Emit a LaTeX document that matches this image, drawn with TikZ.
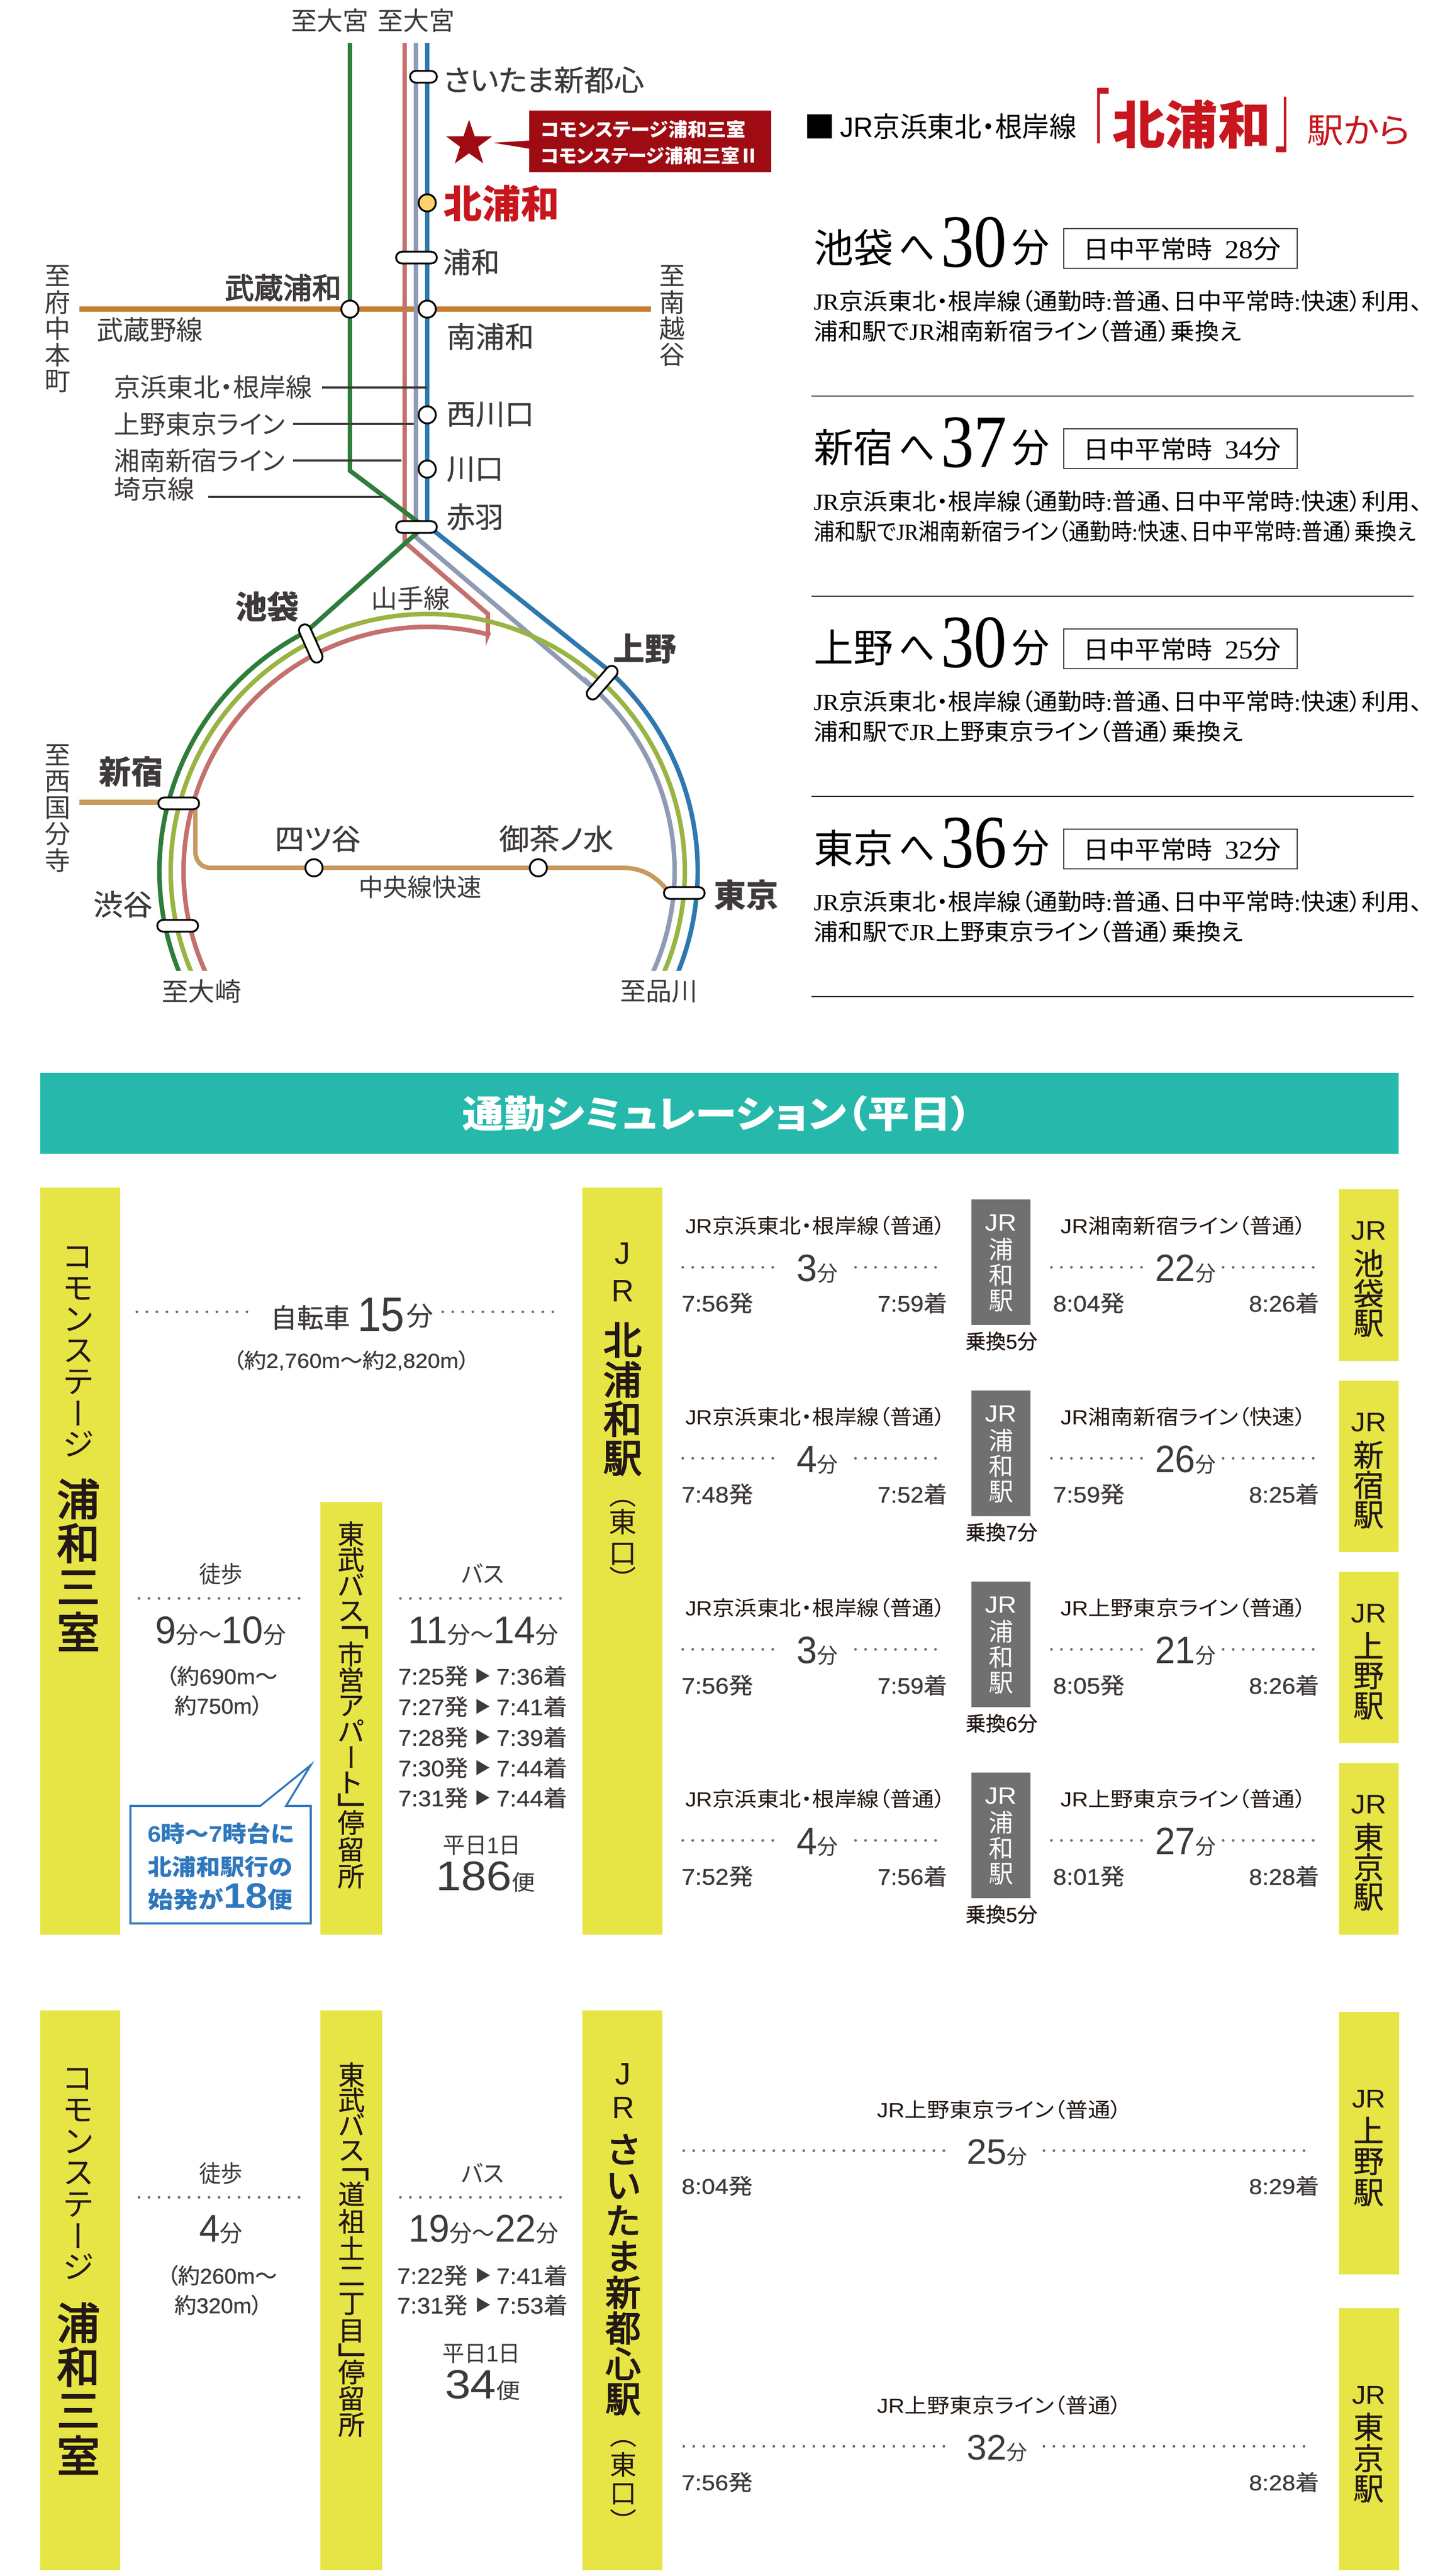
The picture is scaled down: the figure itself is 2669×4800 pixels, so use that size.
\documentclass[tikz,border=0pt]{standalone}
\usepackage{fontspec}
\usetikzlibrary{shapes.geometric}
\newfontfamily\cjk[RawFeature={+palt}]{Noto Sans CJK JP}
\newfontfamily\cjkm[RawFeature={+palt},FakeBold=0.6]{Noto Sans CJK JP}
\newfontfamily\cjkb[RawFeature={+palt},FakeBold=3]{Noto Sans CJK JP}
\newfontfamily\lsn{Liberation Sans}
\newfontfamily\lsm[FakeBold=0.6]{Liberation Sans}
\newfontfamily\lsr{Liberation Serif}
\definecolor{ink}{HTML}{3E3A39}
\definecolor{darkink}{HTML}{231815}
\definecolor{kred}{HTML}{C8161E}
\definecolor{dred}{HTML}{9E0B13}
\definecolor{bary}{HTML}{E6E545}
\definecolor{teal2}{HTML}{25B8AB}
\definecolor{grayb}{HTML}{717071}
\definecolor{cgreen}{HTML}{2E7D3C}
\definecolor{cpink}{HTML}{C4706C}
\definecolor{cslate}{HTML}{8F9AB5}
\definecolor{cblue}{HTML}{2E78AE}
\definecolor{colive}{HTML}{9AB443}
\definecolor{corange}{HTML}{C67F32}
\definecolor{cchuo}{HTML}{C79A5E}
\definecolor{cbox}{HTML}{2F78BE}
\definecolor{cdot}{HTML}{6E6C6C}
\definecolor{cstation}{HTML}{FBD26E}
\newcounter{tn}
\newsavebox\bxa
\newcommand\fz[1]{\pgfmathsetmacro\fzv{#1*0.25}\fontsize{\fzv pt}{\fzv pt}\selectfont}
\newcommand\fitw[2]{\sbox\bxa{#2}\edef\fwd{\the\wd\bxa}\pgfmathsetmacro\fwr{(#1)*0.25/\fwd}\scalebox{\fwr}[1]{\usebox\bxa}}
% left x, right x, centre y, size, format, text
\newcommand\lbl[6]{\stepcounter{tn}\node (t\arabic{tn}) [txt] at ({(#1+#2)/2},{#3}) {#5\fz{#4}\fitw{#2-#1}{#6{\cjk\vphantom{国}}}};}
% as \lbl, without the height strut
\newcommand\lbn[6]{\stepcounter{tn}\node (t\arabic{tn}) [txt] at ({(#1+#2)/2},{#3}) {#5\fz{#4}\fitw{#2-#1}{#6}};}
% x, first centre y, pitch, size, format, list
\newcommand\vchars[6]{\foreach \vch [count=\vi from 0] in {#6} {\stepcounter{tn}\node (t\arabic{tn}) [txt] at (#1,{#2+\vi*#3}) {#5\fz{#4}\vch{\cjk\vphantom{国}}};}}
% rotated bracket: x, y, size, format, char
\newcommand\vbr[5]{\stepcounter{tn}\node (t\arabic{tn}) [txt,rotate=-90] at (#1,#2) {#4\fz{#3}#5};}
\newcommand\VL{\rotatebox[origin=c]{-90}{\rule{0pt}{.76em}ー}}
\newcommand\JR{{\lsn JR}}
\newcommand\SJ{{\lsr JR}}
\tikzset{
  txt/.style={font=\cjk,text=ink,inner sep=0pt,outer sep=0pt,anchor=center},
  dotl/.style={draw=cdot,line cap=round,line width=1.25pt,dash pattern=on 0.01pt off 4.65pt},
  rail/.style={line width=2.1pt,line join=miter},
  pill/.style={draw=black,fill=white,line width=0.85pt,rounded corners=2.75pt,minimum height=5.5pt,inner sep=0pt,minimum width=19pt},
  stn/.style={circle,draw=black,fill=white,line width=0.85pt,minimum size=8pt,inner sep=0pt},
  leader/.style={draw=ink,line width=0.9pt},
  rulel/.style={draw=ink,line width=0.6pt}
}
% dy, line-2 text on right, n1, t1, t2, n2, t3, t4, transfer
\newcommand\simrow[9]{%
  \lbl{1277}{1762}{2284+#1}{38}{\color{darkink}}{\JR 京浜東北・根岸線（普通）}
  \draw[dotl] (1272,{2361+#1}) -- (1451,{2361+#1});
  \draw[dotl] (1594,{2361+#1}) -- (1754,{2361+#1});
  \lbl{1484}{1561}{2362+#1}{71}{}{{\lsn #3}{\fz{40}分}}
  \lbl{1270}{1403}{2428+#1}{42}{\cjkm}{{\lsm #4}発}
  \lbl{1635}{1765}{2428+#1}{42}{\cjkm}{{\lsm #5}着}
  \fill[grayb] (1810,{2235+#1}) rectangle (1920,{2469+#1});
  \lbl{1835}{1894}{2278+#1}{44}{\color{white}}{\JR}
  \vchars{1865}{2328+#1}{48}{46}{\color{white}}{浦,和,駅}
  \lbl{1799}{1933}{2499+#1}{38}{\color{darkink}\cjkm}{乗換{\lsm #9}分}
  \lbl{1976}{2434}{2284+#1}{38}{\color{darkink}}{\JR #2}
  \draw[dotl] (1959,{2361+#1}) -- (2136,{2361+#1});
  \draw[dotl] (2279,{2361+#1}) -- (2457,{2361+#1});
  \lbl{2152}{2265}{2362+#1}{71}{}{{\lsn #6}{\fz{40}分}}
  \lbl{1962}{2095}{2428+#1}{42}{\cjkm}{{\lsm #7}発}
  \lbl{2327}{2458}{2428+#1}{42}{\cjkm}{{\lsm #8}着}
}
% dy, place, minutes, off-peak, line 2, right end of line 2
\newcommand\destrow[6]{%
  \lbl{1516}{1664}{461+#1}{74}{\color{black}}{#2}
  \lbl{1675}{1742}{461+#1}{74}{\color{black}}{へ}
  \lbl{1753}{1876}{447+#1}{140}{\color{black}}{{\lsr #3}}
  \lbl{1885}{1955}{461+#1}{74}{\color{black}}{分}
  \draw[draw=ink,line width=0.6pt] (1982,{426+#1}) rectangle (2417,{500+#1});
  \lbl{2018}{2259}{464+#1}{46}{\color{black}}{日中平常時}
  \lbl{2282}{2387}{464+#1}{48}{\color{black}}{{\lsr #4}分}
  \lbl{1516}{2650}{561+#1}{43}{\color{black}}{\SJ 京浜東北・根岸線（通勤時{\lsr :}普通、日中平常時{\lsr :}快速）利用、}
  \lbl{1516}{#6}{617+#1}{43}{\color{black}}{#5}
}
\begin{document}
\begin{tikzpicture}[x=0.25pt,y=-0.25pt]
\useasboundingbox (0,0) rectangle (2669,4800);
\fill[white] (0,0) rectangle (2669,4800);
% ---------- route map: lines
\draw[rail,corange,line width=2.5pt] (148,576) -- (1213,576);
\draw[rail,cchuo,line width=2.5pt] (148,1495) -- (295,1495);
\begin{scope}
\clip (0,0) rectangle (2669,1808);
\draw[rail,cchuo] (364,1497) -- (364,1586) .. controls (364,1605) and (376,1617) .. (392,1617) -- (1158,1617) .. controls (1195,1617) and (1220,1630) .. (1244,1660);
\draw[rail,cpink] (754,80) -- (754,1010) -- (909,1144) -- (909,1183) -- plot[domain=75.7:206,samples=120] ({797+455*cos(\x)},{1623-455*sin(\x)});
\draw[rail,cslate] (775,80) -- (775,1001) -- (1111,1287) -- plot[domain=47:-26,samples=80] ({797+460*cos(\x)},{1623-460*sin(\x)});
\draw[rail,cblue] (796,80) -- (796,979) -- (1134,1249) -- plot[domain=48:-25,samples=80] ({797+503*cos(\x)},{1623-503*sin(\x)});
\draw[rail,colive] plot[domain=205:-25,samples=200] ({797+479*cos(\x)},{1623-479*sin(\x)});
\draw[rail,cgreen] (652,80) -- (652,877) -- (790,981) -- (574,1174) -- plot[domain=116.4:205,samples=120] ({797+500*cos(\x)},{1623-500*sin(\x)});
\end{scope}
% leaders
\coordinate (la1) at (600,722); \coordinate (lb1) at (796,722);
\coordinate (la2) at (546,790); \coordinate (lb2) at (771,790);
\coordinate (la3) at (546,858); \coordinate (lb3) at (748,858);
\coordinate (la4) at (388,926); \coordinate (lb4) at (713,926);
\draw[leader] (la1) -- (lb1);
\draw[leader] (la2) -- (lb2);
\draw[leader] (la3) -- (lb3);
\draw[leader] (la4) -- (lb4);
% stations
\node[pill,minimum width=12.5pt] (saitama) at (789,143) {};
\node[stn,fill=cstation] (kitaurawa) at (796,378) {};
\node[pill] (urawa) at (776,480) {};
\node[stn] (musashiurawa) at (652,576) {};
\node[stn] (minamiurawa) at (796,576) {};
\node[stn] (nishikawaguchi) at (796,773) {};
\node[stn] (kawaguchi) at (796,874) {};
\node[pill] (akabane) at (776,982) {};
\node[pill,rotate=-66] (ikebukuro) at (579,1199) {};
\node[pill,rotate=49] (ueno) at (1122,1272) {};
\node[pill] (shinjuku) at (333,1497) {};
\node[pill] (shibuya) at (331,1725) {};
\node[pill] (tokyo) at (1275,1664) {};
\node[stn] (yotsuya) at (585,1617) {};
\node[stn] (ochanomizu) at (1003,1617) {};
% callout
\node[star,star points=5,star point ratio=2.55,fill=dred,inner sep=0pt,minimum size=22.5pt] (star1) at (874,268) {};
\fill[dred] (986,206) rectangle (1437,321);
\fill[dred] (986,262) -- (919,266) -- (986,277) -- cycle;
\lbl{1007}{1389}{241}{35}{\color{white}\bfseries}{コモンステージ浦和三室}
\lbl{1007}{1413}{290}{35}{\color{white}\bfseries}{コモンステージ浦和三室Ⅱ}
% map labels
\lbl{542}{687}{38}{48}{}{至大宮}
\lbl{703}{847}{38}{48}{}{至大宮}
\lbl{826}{1200}{149}{54}{\cjkm}{さいたま新都心}
\lbl{826}{1042}{379}{72}{\color{kred}\bfseries}{北浦和}
\lbl{825}{931}{488}{53}{\cjkm}{浦和}
\lbl{419}{636}{536}{54}{\cjkb}{武蔵浦和}
\lbl{180}{378}{615}{50}{}{武蔵野線}
\lbl{832}{995}{627}{54}{\cjkm}{南浦和}
\lbl{832}{995}{772}{54}{\cjkm}{西川口}
\lbl{832}{938}{874}{54}{\cjkm}{川口}
\lbl{832}{938}{963}{54}{\cjkm}{赤羽}
\lbl{212}{582}{721}{48}{}{京浜東北・根岸線}
\lbl{212}{531}{790}{48}{}{上野東京ライン}
\lbl{212}{531}{858}{48}{}{湘南新宿ライン}
\lbl{212}{362}{911}{48}{}{埼京線}
\vchars{107}{514}{49}{48}{}{至,府,中,本,町}
\vchars{1252}{514}{49}{48}{}{至,南,越,谷}
\vchars{107}{1407}{49}{48}{}{至,西,国,分,寺}
\lbl{438}{557}{1131}{60}{\bfseries}{池袋}
\lbl{1142}{1260}{1209}{60}{\bfseries}{上野}
\lbl{184}{304}{1438}{60}{\bfseries}{新宿}
\lbl{174}{284}{1685}{54}{\cjkm}{渋谷}
\lbl{1330}{1450}{1668}{60}{\bfseries}{東京}
\lbl{691}{838}{1115}{49}{}{山手線}
\lbl{512}{672}{1563}{54}{\cjkm}{四ツ谷}
\lbl{930}{1143}{1563}{54}{\cjkm}{御茶ノ水}
\lbl{668}{897}{1653}{46}{}{中央線快速}
\lbl{301}{450}{1847}{48}{}{至大崎}
\lbl{1155}{1300}{1847}{48}{}{至品川}
% ---------- top right
\fill[black] (1504,213) rectangle (1550,258);
\lbl{1565}{2006}{236}{52}{\color{black}}{\JR 京浜東北・根岸線}
\lbn{2033}{2067}{232}{160}{\color{kred}}{「}
\lbl{2072}{2368}{232}{96}{\color{kred}\bfseries}{北浦和}
\lbn{2377}{2408}{232}{160}{\color{kred}}{」}
\lbl{2435}{2628}{244}{64}{\color{kred}}{駅から}
\destrow{0}{池袋}{30}{28}{浦和駅で\SJ 湘南新宿ライン（普通）乗換え}{2313}
\draw[rulel] (1512,738) -- (2634,738);
\destrow{373}{新宿}{37}{34}{浦和駅で\SJ 湘南新宿ライン（通勤時{\lsr :}快速、日中平常時{\lsr :}普通）乗換え}{2638}
\draw[rulel] (1512,1111) -- (2634,1111);
\destrow{746}{上野}{30}{25}{浦和駅で\SJ 上野東京ライン（普通）乗換え}{2316}
\draw[rulel] (1512,1484) -- (2634,1484);
\destrow{1119}{東京}{36}{32}{浦和駅で\SJ 上野東京ライン（普通）乗換え}{2316}
\draw[rulel] (1512,1857) -- (2634,1857);
% ---------- header
\fill[teal2] (75,1999) rectangle (2606,2150);
\lbl{861}{1811}{2075}{70}{\color{white}\bfseries}{通勤シミュレーション（平日）}
% ---------- section 1 bars
\fill[bary] (75,2213) rectangle (224,3605);
\fill[bary] (597,2799) rectangle (712,3605);
\fill[bary] (1085,2213) rectangle (1234,3605);
\fill[bary] (2495,2216) rectangle (2606,2536);
\fill[bary] (2495,2573) rectangle (2606,2892);
\fill[bary] (2495,2929) rectangle (2606,3248);
\fill[bary] (2495,3285) rectangle (2606,3605);
\vchars{146}{2342}{58.3}{58}{\color{darkink}}{コ,モ,ン,ス,テ,\VL,ジ}
\vchars{146}{2793}{82.7}{80}{\color{darkink}\cjkb}{浦,和,三,室}
\vchars{1160}{2335}{70}{58}{\color{darkink}}{{\lsn J},{\lsn R}}
\vchars{1160}{2497}{73.5}{72}{\color{darkink}\cjkb}{北,浦,和,駅}
\vbr{1160}{2796}{50}{\color{darkink}}{（}
\vchars{1160}{2836}{59}{52}{\color{darkink}}{東,口}
\vbr{1160}{2932}{50}{\color{darkink}}{）}
% bike
\draw[dotl] (255,2444) -- (470,2444);
\draw[dotl] (825,2444) -- (1040,2444);
\lbl{504}{652}{2455}{50}{\cjkm}{自転車}
\lbl{666}{754}{2448}{90}{}{{\lsn 15}}
\lbl{757}{807}{2452}{50}{}{分}
\lbl{434}{875}{2535}{38}{\cjkm}{（約{\lsm 2,760m}～約{\lsm 2,820m}）}
% walk
\lbl{371}{452}{2933}{44}{}{徒歩}
\draw[dotl] (259,2978) -- (568,2978);
\lbl{289}{533}{3037}{72}{}{{\lsn 9}{\fz{44}分～}{\lsn 10}{\fz{44}分}}
\lbl{309}{517}{3123}{40}{\cjkm}{（約{\lsm 690m}～}
\lbl{325}{490}{3178}{40}{\cjkm}{約{\lsm 750m}）}
% blue callout
\draw[draw=cbox,fill=white,line width=0.9pt] (243,3365) -- (485,3365) -- (579,3289) -- (533,3365) -- (579,3365) -- (579,3584) -- (243,3584) -- cycle;
\lbl{275}{548}{3416}{42}{\color{cbox}\bfseries}{{\lsn 6}時～{\lsn 7}時台に}
\lbl{275}{545}{3478}{42}{\color{cbox}\bfseries}{北浦和駅行の}
\lbl{275}{546}{3535}{42}{\color{cbox}\bfseries}{始発が{\fz{66}\lsn 18}便}
% bus stop bar 1
\vchars{654}{2858}{48}{50}{\color{darkink}\cjkm}{東,武,バ,ス}
\vbr{654}{3036}{75}{\color{darkink}}{「}
\vchars{654}{3082}{48}{50}{\color{darkink}\cjkm}{市,営,ア,パ,\VL,ト}
\vbr{654}{3360}{75}{\color{darkink}}{」}
\vchars{654}{3396}{50}{50}{\color{darkink}\cjkm}{停,留,所}
% bus info 1
\lbl{860}{939}{2933}{44}{}{バス}
\draw[dotl] (746,2978) -- (1057,2978);
\lbl{760}{1041}{3037}{72}{}{{\lsn 11}{\fz{44}分～}{\lsn 14}{\fz{44}分}}
\foreach \yy/\da/\db in {3123/7:25/7:36,3180/7:27/7:41,3237/7:28/7:39,3294/7:30/7:44,3350/7:31/7:44}{
  \lbl{742}{872}{\yy}{42}{\cjkm}{{\lsm \da}発}
  \stepcounter{tn}\node (t\arabic{tn}) [txt] at (899,\yy) {\fz{30}▶};
  \lbl{925}{1057}{\yy}{42}{\cjkm}{{\lsm \db}着}
}
\lbl{825}{971}{3438}{42}{}{平日{\lsn 1}日}
\lbl{812}{997}{3495}{77}{}{{\lsn 186}{\fz{40}便}}
% JR right column labels rows
\simrow{0}{湘南新宿ライン（普通）}{3}{7:56}{7:59}{22}{8:04}{8:26}{5}
\simrow{356}{湘南新宿ライン（快速）}{4}{7:48}{7:52}{26}{7:59}{8:25}{7}
\simrow{712}{上野東京ライン（普通）}{3}{7:56}{7:59}{21}{8:05}{8:26}{6}
\simrow{1068}{上野東京ライン（普通）}{4}{7:52}{7:56}{27}{8:01}{8:28}{5}
\lbl{2517}{2583}{2293}{50}{\color{darkink}}{\JR}
\vchars{2550}{2354}{56}{57}{\color{darkink}\cjkm}{池,袋,駅}
\lbl{2517}{2583}{2650}{50}{\color{darkink}}{\JR}
\vchars{2550}{2711}{56}{57}{\color{darkink}\cjkm}{新,宿,駅}
\lbl{2517}{2583}{3006}{50}{\color{darkink}}{\JR}
\vchars{2550}{3067}{56}{57}{\color{darkink}\cjkm}{上,野,駅}
\lbl{2517}{2583}{3362}{50}{\color{darkink}}{\JR}
\vchars{2550}{3423}{56}{57}{\color{darkink}\cjkm}{東,京,駅}
% ---------- section 2 bars
\fill[bary] (75,3746) rectangle (224,4789);
\fill[bary] (597,3746) rectangle (712,4789);
\fill[bary] (1085,3746) rectangle (1234,4789);
\fill[bary] (2495,3749) rectangle (2607,4238);
\fill[bary] (2495,4301) rectangle (2607,4789);
\vchars{146}{3873}{58.7}{58}{\color{darkink}}{コ,モ,ン,ス,テ,\VL,ジ}
\vchars{146}{4328}{82.5}{80}{\color{darkink}\cjkb}{浦,和,三,室}
\lbl{371}{452}{4050}{44}{}{徒歩}
\draw[dotl] (259,4094) -- (568,4094);
\lbl{371}{452}{4152}{72}{}{{\lsn 4}{\fz{44}分}}
\lbl{311}{516}{4240}{40}{\cjkm}{（約{\lsm 260m}～}
\lbl{325}{489}{4295}{40}{\cjkm}{約{\lsm 320m}）}
\vchars{655}{3866}{47}{50}{\color{darkink}\cjkm}{東,武,バ,ス}
\vbr{655}{4046}{75}{\color{darkink}}{「}
\vchars{655}{4088}{51}{50}{\color{darkink}\cjkm}{道,祖,土,二,丁,目}
\vbr{655}{4385}{75}{\color{darkink}}{」}
\vchars{655}{4420}{49}{50}{\color{darkink}\cjkm}{停,留,所}
\lbl{860}{939}{4050}{44}{}{バス}
\draw[dotl] (746,4094) -- (1057,4094);
\lbl{761}{1041}{4152}{72}{}{{\lsn 19}{\fz{44}分～}{\lsn 22}{\fz{44}分}}
\foreach \yy/\da/\db in {4240/7:22/7:41,4295/7:31/7:53}{
  \lbl{740}{871}{\yy}{42}{\cjkm}{{\lsm \da}発}
  \stepcounter{tn}\node (t\arabic{tn}) [txt] at (900,\yy) {\fz{30}▶};
  \lbl{925}{1058}{\yy}{42}{\cjkm}{{\lsm \db}着}
}
\lbl{824}{970}{4385}{42}{}{平日{\lsn 1}日}
\lbl{829}{970}{4442}{76}{}{{\lsn 34}{\fz{40}便}}
\vchars{1161}{3864}{63}{58}{\color{darkink}}{{\lsn J},{\lsn R}}
\vchars{1161}{4006}{66.4}{66}{\color{darkink}\cjkb}{さ,い,た,ま,新,都,心,駅}
\vbr{1161}{4548}{50}{\color{darkink}}{（}
\vchars{1161}{4592}{55}{50}{\color{darkink}}{東,口}
\vbr{1161}{4688}{50}{\color{darkink}}{）}
% saitama rows
\lbl{1634}{2090}{3931}{38}{\color{darkink}}{\JR 上野東京ライン（普通）}
\draw[dotl] (1274,4007) -- (1770,4007);
\draw[dotl] (1945,4007) -- (2442,4007);
\lbl{1801}{1914}{4009}{66}{}{{\lsn 25}{\fz{38}分}}
\lbl{1270}{1402}{4073}{40}{\cjkm}{{\lsm 8:04}発}
\lbl{2327}{2458}{4073}{40}{\cjkm}{{\lsm 8:29}着}
\lbl{1634}{2090}{4482}{38}{\color{darkink}}{\JR 上野東京ライン（普通）}
\draw[dotl] (1274,4558) -- (1770,4558);
\draw[dotl] (1945,4558) -- (2442,4558);
\lbl{1801}{1914}{4560}{66}{}{{\lsn 32}{\fz{38}分}}
\lbl{1270}{1402}{4625}{40}{\cjkm}{{\lsm 7:56}発}
\lbl{2327}{2458}{4625}{40}{\cjkm}{{\lsm 8:28}着}
\lbl{2519}{2582}{3910}{48}{\color{darkink}}{\JR}
\vchars{2550}{3970}{58}{57}{\color{darkink}\cjkm}{上,野,駅}
\lbl{2519}{2582}{4462}{48}{\color{darkink}}{\JR}
\vchars{2550}{4522}{58}{57}{\color{darkink}\cjkm}{東,京,駅}
\end{tikzpicture}
\end{document}
